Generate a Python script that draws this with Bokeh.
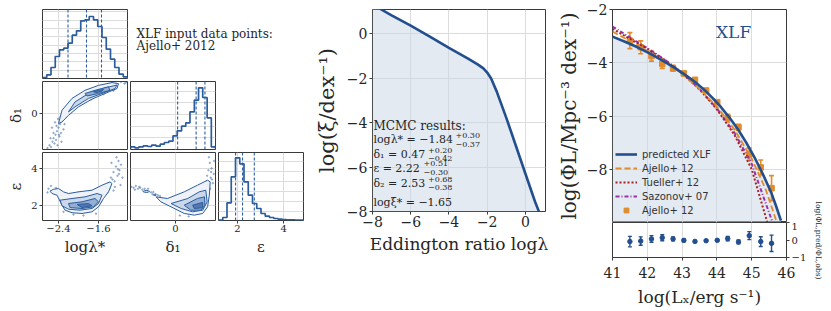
import math
from bokeh.plotting import figure
from bokeh.layouts import row, column
from bokeh.models import (Range1d, LinearAxis, FixedTicker, Label, Legend, LegendItem,
                          Grid, Span, CustomJSTickFormatter)
from bokeh.embed import file_html
from bokeh.resources import INLINE

# ---------------- data ----------------
lam_range = [-2.72, -1.02]
d1_range = [-1.02, 0.91]
eps_range = [1.18, 4.86]

lam_edges = [-2.72, -2.635, -2.55, -2.465, -2.38, -2.295, -2.21, -2.125, -2.04, -1.955, -1.87,
             -1.785, -1.70, -1.615, -1.53, -1.445, -1.36, -1.275, -1.19, -1.105, -1.02]
lam_counts = [3, 11, 33, 66, 86, 91, 106, 130, 143, 173, 176, 186, 176, 156, 123, 88, 58, 33, 13, 5]
lam_quantiles = [-2.21, -1.84, -1.54]

d1_edges = [-1.02, -0.92, -0.83, -0.73, -0.63, -0.54, -0.44, -0.345, -0.25, -0.15, -0.055,
            0.04, 0.14, 0.235, 0.33, 0.43, 0.525, 0.62, 0.72, 0.815, 0.91]
d1_counts = [8, 5, 8, 11, 9, 13, 10, 16, 21, 25, 41, 56, 70, 80, 113, 148, 185, 156, 95, 8]
d1_quantiles = [0.05, 0.47, 0.67]

eps_edges = [1.18, 1.364, 1.548, 1.732, 1.916, 2.10, 2.284, 2.468, 2.652, 2.836, 3.02, 3.204,
             3.388, 3.572, 3.756, 3.94, 4.124, 4.308, 4.492, 4.676, 4.86]
eps_counts = [1, 9, 53, 131, 188, 170, 116, 76, 51, 36, 21, 13, 9, 6, 4, 3, 2, 2, 1, 1]
eps_quantiles = [1.92, 2.22, 2.73]

# contour levels (outer -> inner) : delta1 vs log lambda*
b_cont_x = [[-2.40, -2.33, -2.13, -1.87, -1.60, -1.33, -1.20, -1.23, -1.47, -1.73, -2.0, -2.2, -2.33],
            [-2.2, -2.07, -1.8, -1.47, -1.23, -1.27, -1.53, -1.8, -2.07],
            [-1.87, -1.67, -1.4, -1.37, -1.6, -1.83],
            [-1.70, -1.6, -1.5, -1.55, -1.65]]
b_cont_y = [[-0.28, 0.095, 0.43, 0.66, 0.80, 0.88, 0.85, 0.71, 0.57, 0.41, 0.19, -0.05, -0.24],
            [0.05, 0.33, 0.57, 0.73, 0.81, 0.71, 0.57, 0.43, 0.19],
            [0.57, 0.66, 0.76, 0.66, 0.57, 0.50],
            [0.62, 0.66, 0.68, 0.62, 0.60]]
b_pts_x = [-2.62, -2.58, -2.55, -2.52, -2.5, -2.48, -2.46, -2.45, -2.43, -2.42, -2.4, -2.38, -2.37,
           -2.35, -2.33, -2.3, -2.28, -2.5, -2.56, -2.44, -2.36, -2.41, -2.47, -2.39, -2.25, -2.2,
           -2.1, -1.95, -1.75, -1.5, -1.3, -1.15, -1.08, -1.05, -2.15, -1.9, -1.6, -1.25, -2.53, -2.34]
b_pts_y = [-0.98, -0.9, -0.95, -0.8, -0.7, -0.85, -0.6, -0.75, -0.5, -0.9, -0.4, -0.65, -0.3,
           -0.55, -0.2, -0.45, -0.3, -0.55, -0.7, -0.35, -0.1, -0.15, -0.25, -0.6, -0.1, 0.0,
           0.15, 0.3, 0.4, 0.55, 0.65, 0.9, 0.85, 0.88, 0.3, 0.5, 0.72, 0.85, -0.4, -0.8]

# epsilon vs log lambda*
d_cont_x = [[-2.57, -2.50, -2.40, -2.30, -2.20, -2.0, -1.73, -1.53, -1.37, -1.33, -1.40, -1.50,
             -1.60, -1.73, -1.93, -2.13, -2.27, -2.33, -2.43, -2.53],
            [-2.37, -2.13, -1.87, -1.63, -1.53, -1.60, -1.73, -1.97, -2.2, -2.33],
            [-2.2, -1.93, -1.67, -1.6, -1.70, -1.93, -2.17],
            [-2.03, -1.8, -1.73, -1.93]]
d_cont_y = [[2.77, 2.87, 2.91, 2.73, 2.64, 2.73, 2.82, 3.09, 3.27, 3.18, 2.73, 2.37, 1.92, 1.65,
             1.56, 1.60, 1.74, 2.01, 2.55, 2.64],
            [2.28, 2.37, 2.46, 2.64, 2.55, 2.10, 1.83, 1.74, 1.79, 1.98],
            [2.10, 2.19, 2.37, 2.19, 1.92, 1.83, 1.88],
            [2.05, 2.10, 1.98, 1.88]]
d_pts_x = [-1.45, -1.4, -1.35, -1.3, -1.28, -1.25, -1.22, -1.2, -1.18, -1.15, -1.32, -1.27, -1.38,
           -1.24, -1.19, -1.3, -1.42, -1.5, -2.6, -2.62, -2.55, -2.45, -2.35, -2.2, -2.0, -1.8,
           -1.6, -1.55, -1.65, -2.1, -2.3, -1.9, -1.12, -1.16, -1.21, -1.34]
d_pts_y = [3.0, 3.2, 3.5, 3.8, 3.3, 4.1, 3.6, 4.4, 3.9, 4.2, 3.4, 3.0, 2.9, 4.6, 3.7, 2.8, 2.7,
           2.6, 2.9, 2.7, 3.05, 2.95, 2.55, 2.6, 2.7, 2.75, 2.65, 2.2, 1.55, 1.5, 1.65, 1.45,
           3.5, 3.1, 3.95, 4.3]

# epsilon vs delta1
e_cont_x = [[-0.44, -0.18, 0.20, 0.50, 0.73, 0.79, 0.77, 0.73, 0.62, 0.43, 0.20, -0.10, -0.33],
            [-0.10, 0.28, 0.54, 0.69, 0.72, 0.62, 0.39, 0.13],
            [0.20, 0.50, 0.66, 0.67, 0.58, 0.35],
            [0.39, 0.62, 0.62, 0.43]]
e_cont_y = [[2.46, 2.37, 2.73, 3.09, 3.36, 3.27, 2.55, 1.92, 1.56, 1.47, 1.56, 1.92, 2.19],
            [2.10, 2.37, 2.73, 2.82, 2.19, 1.74, 1.65, 1.83],
            [2.01, 2.37, 2.46, 2.01, 1.74, 1.74],
            [2.01, 2.16, 1.87, 1.83]]
e_island_x = [-0.66, -0.47]
e_island_y = [2.75, 2.56]
e_island_w = [0.12, 0.06]
e_island_h = [0.10, 0.07]
e_pts_x = [-1.0, -0.95, -0.9, -0.85, -0.8, -0.75, -0.7, -0.65, -0.6, -0.55, -0.5, -0.45, -0.4,
           -0.35, -0.92, -0.82, -0.72, -0.62, -0.52, -0.3, -0.2, 0.7, 0.72, 0.75, 0.78, 0.8, 0.82,
           0.85, 0.87, 0.76, 0.83, 0.79, 0.74, 0.88, 0.81, 0.1, 0.3]
e_pts_y = [3.0, 2.95, 3.05, 2.9, 2.95, 2.85, 2.9, 2.8, 2.75, 2.7, 2.72, 2.6, 2.55, 2.5, 2.85,
           3.0, 2.75, 2.9, 2.6, 2.35, 2.3, 3.3, 3.6, 3.9, 4.3, 3.5, 4.0, 3.2, 3.7, 4.6, 3.4, 2.9,
           3.1, 4.4, 3.8, 1.45, 1.4]

# Eddington ratio distribution
edd_range_x = [-8, 1.05]
edd_range_y = [-8, 1.1]
edd_x = [-8.0, -7.5, -7, -6, -5, -4, -3, -2.5, -2.2, -2, -1.8, -1.5, -1, -0.5, 0, 0.5, 0.75]
edd_y = [1.33, 1.08, 0.84, 0.37, -0.12, -0.63, -1.11, -1.37, -1.55, -1.74, -2.0, -2.6, -3.78,
         -5.04, -6.3, -7.55, -8.1]
mcmc_lines = ["logλ* = −1.84", "δ₁ = 0.47", "ε = 2.22", "δ₂ = 2.53"]
mcmc_up = ["+0.30", "+0.20", "+0.51", "+0.68"]
mcmc_lo = ["−0.37", "−0.42", "−0.30", "−0.38"]

# X-ray luminosity function
xlf_range_x = [41, 46]
xlf_range_y = [-10, -2]
pred_x = [41.0, 41.36, 41.72, 42.08, 42.44, 42.8, 43.16, 43.4, 43.64, 43.88, 44.12, 44.36, 44.6,
          44.84, 45.08, 45.32, 45.56, 45.7, 45.84]
pred_y = [-3.02, -3.21, -3.42, -3.66, -3.92, -4.2, -4.52, -4.75, -5.02, -5.33, -5.67, -6.06,
          -6.49, -6.99, -7.55, -8.18, -8.87, -9.38, -9.93]
model_x = [41.0, 41.5, 42.0, 42.5, 43.0, 43.5, 44.0, 44.5, 45.0, 45.4, 45.75]
ajello_model_y = [-2.83, -3.18, -3.55, -3.95, -4.42, -4.98, -5.65, -6.5, -7.6, -8.75, -10.1]
tueller_x = [41.0, 41.5, 42.0, 42.5, 43.0, 43.5, 44.0, 44.5, 45.0, 45.45]
tueller_y = [-2.73, -3.1, -3.48, -3.9, -4.4, -5.0, -5.75, -6.7, -8.0, -10.0]
sazonov_x = [41.0, 41.5, 42.0, 42.5, 43.0, 43.5, 44.0, 44.5, 45.0, 45.6]
sazonov_y = [-2.64, -3.05, -3.45, -3.88, -4.38, -4.98, -5.72, -6.62, -7.8, -10.0]
obs_x = [41.50, 41.81, 42.12, 42.43, 42.74, 43.05, 43.37, 43.69, 44.01, 44.31, 44.62, 44.93,
         45.26, 45.57]
obs_y = [-3.17, -3.42, -3.75, -4.04, -4.21, -4.40, -4.64, -5.04, -5.48, -6.06, -6.42, -7.43,
         -7.93, -8.71]
obs_err = [0.30, 0.24, 0.19, 0.17, 0.11, 0.08, 0.05, 0.05, 0.05, 0.12, 0.11, 0.23, 0.28, 0.47]
ratio_y = [-0.09, -0.06, 0.06, 0.13, 0.06, -0.02, -0.08, -0.04, -0.02, 0.08, -0.11, 0.25, -0.09,
           -0.19]
ratio_err = [0.30, 0.24, 0.19, 0.17, 0.11, 0.08, 0.05, 0.05, 0.05, 0.12, 0.11, 0.23, 0.28, 0.47]

# ---------------- style ----------------
SERIF = "DejaVu Serif"
SANS = "DejaVu Sans"
INK = "#262626"
FRAME = "#3a3a3a"
GRID = "#dcdcdc"
BLUE = "#234f8e"
HBLUE = "#2b5d9e"
FILL = "#c8d5e6"
ORANGE = "#e08c2c"
DARKRED = "#a8231f"
PURPLE = "#9b30ad"
LEVEL_FILLS = ["#edf2f8", "#c6d5e9", "#8eaad1", "#4a70ae"]

MINUS = CustomJSTickFormatter(code="return String(tick).replace('-', '\\u2212');")


def make_fig(w, h, bl, br, bt, bb, xr, yr, outline=True):
    p = figure(width=w, height=h, x_range=Range1d(*xr), y_range=Range1d(*yr),
               min_border_left=bl, min_border_right=br, min_border_top=bt, min_border_bottom=bb,
               toolbar_location=None, output_backend="svg",
               x_axis_location=None, y_axis_location=None)
    p.grid.visible = False
    p.outline_line_color = FRAME if outline else None
    p.outline_line_width = 1
    p.background_fill_color = "white"
    p.border_fill_color = "white"
    return p


def add_grid(p, dim, ticks):
    g = Grid(dimension=dim, ticker=FixedTicker(ticks=list(ticks)),
             grid_line_color=GRID, grid_line_width=1)
    p.add_layout(g, "center")


def add_axis(p, side, ticks, size, label=None, label_size=14, standoff=2, label_standoff=3):
    ax = LinearAxis(ticker=FixedTicker(ticks=list(ticks)), formatter=MINUS)
    ax.major_label_text_font = SERIF
    ax.major_label_text_font_size = f"{size}px"
    ax.major_label_text_color = INK
    ax.major_label_standoff = standoff
    ax.axis_line_color = None
    ax.major_tick_line_color = FRAME
    ax.major_tick_in = 0
    ax.major_tick_out = 3
    ax.minor_tick_line_color = None
    if label:
        ax.axis_label = label
        ax.axis_label_text_font = SERIF
        ax.axis_label_text_font_size = f"{label_size}px"
        ax.axis_label_text_font_style = "normal"
        ax.axis_label_text_color = INK
        ax.axis_label_standoff = label_standoff
    p.add_layout(ax, side)
    return ax


def step_path(edges, counts):
    xs, ys = [edges[0]], [0]
    for i, c in enumerate(counts):
        xs += [edges[i], edges[i + 1]]
        ys += [c, c]
    xs.append(edges[-1])
    ys.append(0)
    return xs, ys


def draw_hist(p, edges, counts, quantiles):
    xs, ys = step_path(edges, counts)
    p.line(xs, ys, line_color=HBLUE, line_width=1.7)
    for q in quantiles:
        p.add_layout(Span(location=q, dimension="height", line_color=HBLUE,
                          line_width=1.1, line_dash="3 2"))


def draw_contours(p, cx, cy, px, py):
    p.scatter(px, py, size=1.6, color=HBLUE, alpha=0.35)
    for xs, ys, fc in zip(cx, cy, LEVEL_FILLS):
        p.patch(xs, ys, fill_color=fc, fill_alpha=0.9, line_color=HBLUE, line_width=1)


def txt(p, x, y, s, size, color=INK, **kw):
    p.add_layout(Label(x=x, y=y, text=s, text_font=SERIF, text_font_size=f"{size}px",
                       text_color=color, text_baseline="middle", **kw))


# ---------------- corner plot ----------------
A = make_fig(128, 80, 42, 1, 9, 2, lam_range, (0, 207))
add_grid(A, 0, [-2.4, -1.6])
add_grid(A, 1, [25, 50, 75, 100, 125, 150, 175, 200])
draw_hist(A, lam_edges, lam_counts, lam_quantiles)

T = make_fig(176, 80, 0, 0, 0, 0, (0, 176), (0, 80), outline=False)
txt(T, 8, 52, "XLF input data points:", 12)
txt(T, 8, 38, "Ajello+ 2012", 12)

B = make_fig(128, 70, 42, 1, 1, 1, lam_range, d1_range)
add_grid(B, 0, [-2.4, -1.6])
add_grid(B, 1, [0])
add_axis(B, "left", [0], 10, "δ₁", 15)
draw_contours(B, b_cont_x, b_cont_y, b_pts_x, b_pts_y)

C = make_fig(88, 70, 2, 1, 1, 1, d1_range, (0, 204))
add_grid(C, 0, [0])
add_grid(C, 1, [35, 70, 105, 140, 175])
draw_hist(C, d1_edges, d1_counts, d1_quantiles)

D = make_fig(128, 110, 42, 1, 2, 40, lam_range, eps_range)
add_grid(D, 0, [-2.4, -1.6])
add_grid(D, 1, [2, 4])
add_axis(D, "left", [2, 4], 10, "ε", 15)
add_axis(D, "below", [-2.4, -1.6], 10, "logλ*", 15, standoff=1)
draw_contours(D, d_cont_x, d_cont_y, d_pts_x, d_pts_y)

E = make_fig(88, 110, 2, 1, 2, 40, d1_range, eps_range)
add_grid(E, 0, [0])
add_grid(E, 1, [2, 4])
add_axis(E, "below", [0], 10, "δ₁", 15, standoff=1)
draw_contours(E, e_cont_x, e_cont_y, e_pts_x, e_pts_y)
E.ellipse(x=e_island_x, y=e_island_y, width=e_island_w, height=e_island_h,
          fill_color=LEVEL_FILLS[0], line_color=HBLUE, line_width=1)

F = make_fig(88, 110, 2, 1, 2, 40, eps_range, (0, 204))
add_grid(F, 0, [2, 4])
add_grid(F, 1, [26, 56, 86, 116, 146, 176])
add_axis(F, "below", [2, 4], 10, "ε", 15, standoff=1)
draw_hist(F, eps_edges, eps_counts, eps_quantiles)

corner = column(row(A, T), row(B, C), row(D, E, F))

# ---------------- Eddington ratio distribution ----------------
M1 = make_fig(247, 266, 68, 6, 9, 55, edd_range_x, edd_range_y)
add_grid(M1, 0, [-8, -6, -4, -2, 0])
add_grid(M1, 1, [0, -2, -4, -6, -8])
add_axis(M1, "left", [0, -2, -4, -6, -8], 14, "log(ξ/dex⁻¹)", 21, label_standoff=5)
add_axis(M1, "below", [-8, -6, -4, -2, 0], 14, "Eddington ratio logλ", 17, standoff=1, label_standoff=4)
M1.varea(x=edd_x, y1=edd_range_y[0], y2=edd_y, fill_color=FILL, fill_alpha=0.5)
M1.line(edd_x, edd_y, line_color=BLUE, line_width=2.6)

tx = -7.95
txt(M1, tx, -4.17, "MCMC results:", 12)
line_y = [-4.76, -5.43, -6.06, -6.74]
sup_x = [-3.66, -5.1, -5.33, -5.1]
for s, up, lo, yy, sx in zip(mcmc_lines, mcmc_up, mcmc_lo, line_y, sup_x):
    txt(M1, tx, yy, s, 11)
    txt(M1, sx, yy + 0.2, up, 8)
    txt(M1, sx, yy - 0.2, lo, 8)
txt(M1, tx, -7.59, "logξ* = −1.65", 11)

# ---------------- XLF ----------------
M2 = make_fig(259, 222, 61, 24, 9, 0, xlf_range_x, xlf_range_y)
add_grid(M2, 0, [41, 42, 43, 44, 45, 46])
add_grid(M2, 1, [-2, -4, -6, -8])
add_axis(M2, "left", [-2, -4, -6, -8], 14, "log(ΦL/Mpc⁻³ dex⁻¹)", 20)
M2.varea(x=pred_x, y1=xlf_range_y[0], y2=pred_y, fill_color=FILL, fill_alpha=0.5)

lo = [y - e for y, e in zip(obs_y, obs_err)]
hi = [y + e for y, e in zip(obs_y, obs_err)]
M2.segment(obs_x, lo, obs_x, hi, line_color=ORANGE, line_width=1.6)
M2.scatter(obs_x, lo, marker="dash", size=5, line_color=ORANGE, line_width=1.6)
M2.scatter(obs_x, hi, marker="dash", size=5, line_color=ORANGE, line_width=1.6)
r_obs = M2.scatter(obs_x, obs_y, marker="square", size=5.5, fill_color=ORANGE, line_color=ORANGE)
r_saz = M2.line(sazonov_x, sazonov_y, line_color=PURPLE, line_width=2, line_dash="4 2 1 2")
r_tue = M2.line(tueller_x, tueller_y, line_color=DARKRED, line_width=2, line_dash="2 2")
r_aje = M2.line(model_x, ajello_model_y, line_color=ORANGE, line_width=1.8, line_dash="6 3")
r_pred = M2.line(pred_x, pred_y, line_color=BLUE, line_width=2.6)

legend = Legend(items=[LegendItem(label="predicted XLF", renderers=[r_pred]),
                       LegendItem(label="Ajello+ 12", renderers=[r_aje]),
                       LegendItem(label="Tueller+ 12", renderers=[r_tue]),
                       LegendItem(label="Sazonov+ 07", renderers=[r_saz]),
                       LegendItem(label="Ajello+ 12", renderers=[r_obs])],
                location=(3, 6))
legend.label_text_font = SANS
legend.label_text_font_size = "10px"
legend.label_text_color = "#333333"
legend.glyph_width = 22
legend.glyph_height = 12
legend.label_height = 12
legend.spacing = 2
legend.padding = 3
legend.margin = 0
legend.label_standoff = 5
legend.background_fill_alpha = 0
legend.border_line_color = None
M2.add_layout(legend)

txt(M2, 44.48, -2.86, "XLF", 17, color=BLUE, text_align="center")

R = make_fig(259, 88, 61, 24, 0, 53, xlf_range_x, (-1, 1))
add_grid(R, 0, [42, 43, 44, 45])
add_axis(R, "below", [41, 42, 43, 44, 45, 46], 14, "log(Lₓ/erg s⁻¹)", 17, standoff=6, label_standoff=6)
add_axis(R, "right", [-1, 0, 1], 10)
rlo = [y - e for y, e in zip(ratio_y, ratio_err)]
rhi = [y + e for y, e in zip(ratio_y, ratio_err)]
R.segment(obs_x, rlo, obs_x, rhi, line_color=BLUE, line_width=1.4)
R.scatter(obs_x, rlo, marker="dash", size=4, line_color=BLUE, line_width=1.4)
R.scatter(obs_x, rhi, marker="dash", size=4, line_color=BLUE, line_width=1.4)
R.scatter(obs_x, ratio_y, marker="circle", size=4.5, fill_color=BLUE, line_color=BLUE)

# side strip holding the rotated ratio-axis title
S = make_fig(16, 310, 0, 0, 0, 0, (0, 16), (0, 310), outline=False)
txt(S, 8, 70, "log(ΦL,pred/ΦL,obs)", 7.5, text_align="center", angle=-math.pi / 2)

right = row(column(M2, R), S)

root = row(corner, M1, right)
open("out.html", "w").write(file_html(root, INLINE))
